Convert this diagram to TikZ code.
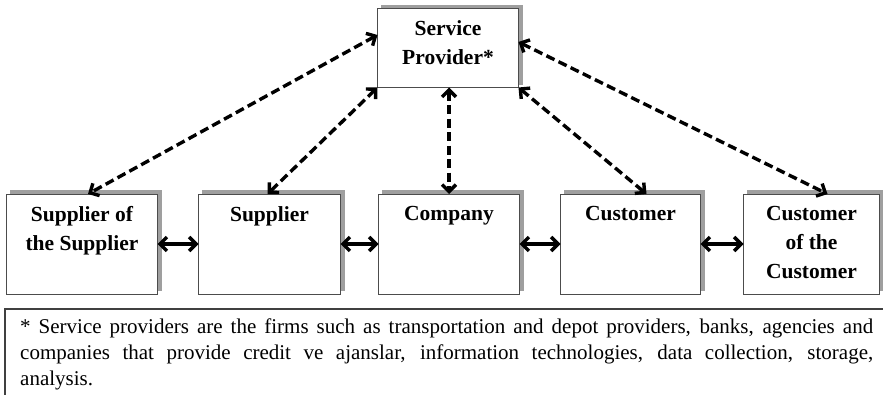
\documentclass[tikz,border=0pt]{standalone}
\usepackage{fontspec}
\setmainfont{Liberation Serif}
\usetikzlibrary{positioning,shadows,arrows.meta}

\tikzset{
  box/.style={draw=gray!60!black, line width=0.8pt, fill=white, outer sep=0pt,
    minimum height=100pt,
    copy shadow={shadow xshift=3.5pt, shadow yshift=3.5pt, fill=gray!75, draw=gray!75}},
  lbl/.style={inner sep=0pt, align=center, font=\bfseries\fontsize{21.5}{29}\selectfont},
  link/.style={line width=3.4pt,
    {Straight Barb[length=7pt,width=14pt]}-{Straight Barb[length=7pt,width=14pt]}},
  dlink/.style={link, dash pattern=on 9pt off 4.5pt},
}

\begin{document}
\begin{tikzpicture}[x=1pt,y=-1pt]
   \useasboundingbox (0,0) rectangle (883,395);
   \clip (0,0) rectangle (883,395);
   % top
   \node[box,minimum width=141pt,minimum height=79pt] (sp) at (448,48) {};
   % chain
   \node[box,minimum width=151pt] (sos) at (82,244) {};
   \node[box,minimum width=142pt] (sup) [right=41pt of sos] {};
   \node[box,minimum width=141pt] (com) [right=38pt of sup] {};
   \node[box,minimum width=140pt] (cus) [right=41pt of com] {};
   \node[box,minimum width=136pt] (coc) [right=43pt of cus] {};
   % labels
   \node[lbl] (spl)  [below=12pt of sp.north]  {Service\\Provider*};
   \node[lbl] (sosl) [below=12pt of sos.north] {Supplier of\\the Supplier};
   \node[lbl] (supl) [below=12pt of sup.north] {Supplier};
   \node[lbl] (coml) [below=12pt of com.north] {Company};
   \node[lbl] (cusl) [below=12pt of cus.north] {Customer};
   \node[lbl] (cocl) [below=12pt of coc.north] {Customer\\of the\\Customer};
    \draw[link] (sos) -- (sup);
    \draw[link] (sup) -- (com);
    \draw[link] (com) -- (cus);
    \draw[link] (cus) -- (coc);
    \draw[dlink] ([yshift=13pt]sp.west) -- ([xshift=6pt]sos.north);
    \draw[dlink] (sp.south west) -- ([xshift=-2pt]sup.north);
    \draw[dlink] (com.north |- sp.south) -- (com.north);
    \draw[dlink] (sp.south east) -- ([xshift=16pt]cus.north);
    \draw[dlink] ([yshift=6pt]sp.east) -- ([xshift=16pt]coc.north);
   % note
   \draw[gray!50!black, line width=1.2pt] (5,400) |- (890,309);
   \node[anchor=north west, inner sep=0pt, text width=853pt, align=justify,
     font=\fontsize{21}{26}\selectfont] (note) at (20,319)
     {* Service providers are the firms such as transportation and depot providers, banks, agencies and\linebreak
      companies that provide credit ve ajanslar, information technologies, data collection, storage,\linebreak
      analysis.};
\end{tikzpicture}
\end{document}
